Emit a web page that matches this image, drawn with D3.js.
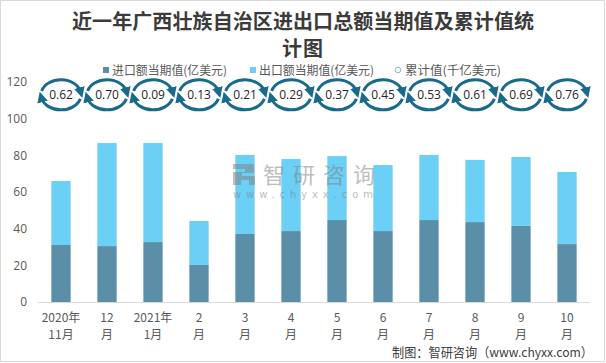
<!DOCTYPE html>
<html lang="zh">
<head>
<meta charset="UTF-8">
<title>近一年广西壮族自治区进出口总额当期值及累计值统计图</title>
<style>
  body { margin: 0; background: #fff; }
  svg { display: block; font-family: "Noto Sans CJK SC", "Open Sans", sans-serif; }
</style>
</head>
<body>
<svg width="606" height="363"></svg>
<script src="https://d3js.org/d3.v7.min.js"></script>
<script>
// 数据
var monthTop = ["2020年", "12", "2021年", "2", "3", "4", "5", "6", "7", "8", "9", "10"];
var monthBottom = ["11月", "月", "1月", "月", "月", "月", "月", "月", "月", "月", "月", "月"];
var importVals = [31.1, 30.5, 32.7, 20.2, 37.1, 38.7, 44.7, 38.7, 44.7, 43.6, 41.5, 31.6];
var exportVals = [34.9, 56.2, 54.0, 24.0, 43.1, 39.3, 34.9, 36.0, 35.5, 33.9, 37.6, 39.3];
var cumVals = [0.62, 0.70, 0.09, 0.13, 0.21, 0.29, 0.37, 0.45, 0.53, 0.61, 0.69, 0.76];
var yTicks = [0, 20, 40, 60, 80, 100, 120];
var seriesNames = ["进口额当期值(亿美元)", "出口额当期值(亿美元)", "累计值(千亿美元)"];

var colImport = "#5b8fa8", colExport = "#6bcff6", colCycle = "#1a6b8b";
var labelLevel = 113; // 累计值标签所在高度(主轴刻度)

var svg = d3.select("svg");

// 外框
svg.append("rect")
  .attr("x", 0.5).attr("y", 0.5).attr("width", 604).attr("height", 361)
  .attr("fill", "#fff").attr("stroke", "#d9d9d9");

// 标题
var title = svg.append("text")
  .attr("text-anchor", "middle")
  .attr("font-size", 20).attr("font-weight", "bold").attr("fill", "#3b3b3b");
title.append("tspan").attr("x", 303).attr("y", 29)
  .attr("textLength", 462).attr("lengthAdjust", "spacing")
  .text("近一年广西壮族自治区进出口总额当期值及累计值统");
title.append("tspan").attr("x", 303).attr("y", 56)
  .attr("letter-spacing", 1)
  .text("计图");

var x = d3.scaleBand()
  .domain(d3.range(monthTop.length))
  .range([38, 590])
  .paddingInner(0.58)
  .paddingOuter(0.29);

var y = d3.scaleLinear().domain([0, 120]).range([302, 82]);

// 柱子
var bars = svg.append("g");
bars.selectAll(".imp")
  .data(importVals)
  .join("rect")
  .attr("x", function(d, i) { return x(i); })
  .attr("width", x.bandwidth())
  .attr("y", function(d) { return y(d); })
  .attr("height", function(d) { return y(0) - y(d); })
  .attr("fill", colImport);

bars.selectAll(".exp")
  .data(exportVals)
  .join("rect")
  .attr("x", function(d, i) { return x(i); })
  .attr("width", x.bandwidth())
  .attr("y", function(d, i) { return y(importVals[i] + d); })
  .attr("height", function(d, i) { return y(importVals[i]) - y(importVals[i] + d); })
  .attr("fill", colExport);

// 水印 (盖在柱子上)
var wm = svg.append("g").attr("fill", "#7f7f7f").attr("opacity", 0.5);
wm.append("path")
  .attr("d", "M233,164h21v9h-12v3h13v9h-6v-5h-8v5h-8v-13h12v-3h-12z");
wm.append("text").attr("x", 263).attr("y", 183)
  .attr("font-size", 22).attr("textLength", 112).attr("lengthAdjust", "spacing")
  .text("智研咨询");
wm.append("text").attr("x", 233).attr("y", 198)
  .attr("font-size", 10).attr("font-family", "DejaVu Sans")
  .attr("textLength", 140).attr("lengthAdjust", "spacing")
  .text("www.chyxx.com");

// y 轴
var yAxis = svg.append("g")
  .attr("transform", "translate(27,0)")
  .call(d3.axisLeft(y).tickValues(yTicks).tickSize(0).tickPadding(0));
yAxis.select(".domain").remove();
yAxis.selectAll("text")
  .attr("font-size", 12).attr("fill", "#595959")
  .attr("font-family", "Open Sans, sans-serif");

// x 轴线
svg.append("line")
  .attr("x1", 38).attr("x2", 590)
  .attr("y1", y(0) + 0.5).attr("y2", y(0) + 0.5)
  .attr("stroke", "#d9d9d9");

// x 轴标签
var xl = svg.append("g").attr("font-size", 12).attr("fill", "#595959").attr("text-anchor", "middle");
xl.selectAll(".t1").data(monthTop).join("text")
  .attr("x", function(d, i) { return x(i) + x.bandwidth() / 2; })
  .attr("y", 322)
  .text(function(d) { return d; });
xl.selectAll(".t2").data(monthBottom).join("text")
  .attr("x", function(d, i) { return x(i) + x.bandwidth() / 2; })
  .attr("y", 339)
  .text(function(d) { return d; });

// 累计值 - 循环箭头
var defs = svg.append("defs");
defs.append("marker")
  .attr("id", "ah")
  .attr("viewBox", "0 0 10 10")
  .attr("refX", 4).attr("refY", 5)
  .attr("markerWidth", 3.6).attr("markerHeight", 3.6)
  .attr("orient", "auto")
  .append("path").attr("d", "M0,0L10,5L0,10z").attr("fill", colCycle);

var rx = 20, ry = 15;
function pt(cx, cy, deg) {
  var a = deg * Math.PI / 180;
  return [cx + rx * Math.cos(a), cy + ry * Math.sin(a)];
}
var cyc = svg.append("g").selectAll("g").data(cumVals).join("g");
cyc.each(function(d, i) {
  var g = d3.select(this);
  var cx = x(i) + x.bandwidth() / 2, cy = y(labelLevel);
  var a0 = pt(cx, cy, 195), a1 = pt(cx, cy, 348);
  var b0 = pt(cx, cy, 15), b1 = pt(cx, cy, 168);
  g.append("path")
    .attr("d", "M" + a0 + "A" + rx + "," + ry + " 0 0 1 " + a1)
    .attr("fill", "none").attr("stroke", colCycle).attr("stroke-width", 3)
    .attr("marker-end", "url(#ah)");
  g.append("path")
    .attr("d", "M" + b0 + "A" + rx + "," + ry + " 0 0 1 " + b1)
    .attr("fill", "none").attr("stroke", colCycle).attr("stroke-width", 3)
    .attr("marker-end", "url(#ah)");
  g.append("text")
    .attr("x", cx).attr("y", cy + 4.5)
    .attr("text-anchor", "middle")
    .attr("font-size", 12).attr("fill", "#262626")
    .attr("font-family", "Open Sans, sans-serif")
    .text(d.toFixed(2));
});

// 图例
var lg = svg.append("g").attr("font-size", 12).attr("fill", "#595959");
lg.append("rect").attr("x", 103).attr("y", 67).attr("width", 6).attr("height", 6).attr("fill", colImport);
lg.append("text").attr("x", 112).attr("y", 75)
  .attr("textLength", 115).attr("lengthAdjust", "spacingAndGlyphs").text(seriesNames[0]);
lg.append("rect").attr("x", 250).attr("y", 67).attr("width", 6).attr("height", 6).attr("fill", colExport);
lg.append("text").attr("x", 259).attr("y", 75)
  .attr("textLength", 115).attr("lengthAdjust", "spacingAndGlyphs").text(seriesNames[1]);
lg.append("circle").attr("cx", 398).attr("cy", 70).attr("r", 2.8)
  .attr("fill", "none").attr("stroke", "#8fb7c8").attr("stroke-width", 1);
lg.append("text").attr("x", 405).attr("y", 75)
  .attr("textLength", 96).attr("lengthAdjust", "spacingAndGlyphs").text(seriesNames[2]);

// 来源
svg.append("text")
  .attr("x", 593).attr("y", 357)
  .attr("text-anchor", "end")
  .attr("font-size", 13).attr("fill", "#404040")
  .attr("textLength", 201).attr("lengthAdjust", "spacingAndGlyphs")
  .text("制图：智研咨询（www.chyxx.com）");
</script>
</body>
</html>
